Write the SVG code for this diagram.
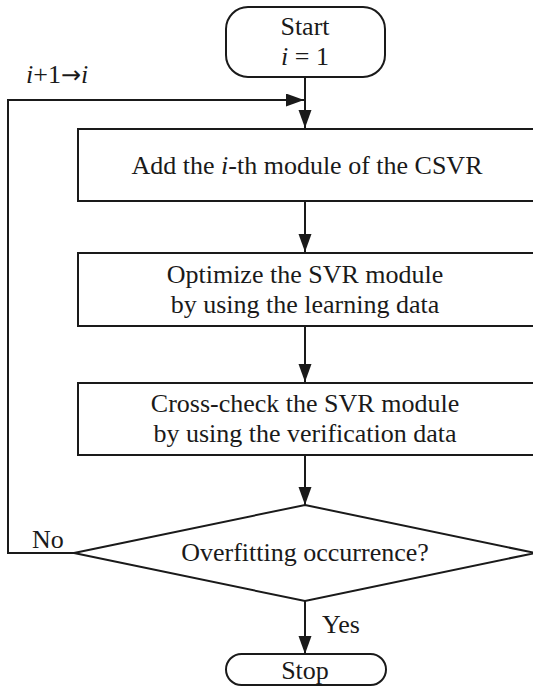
<svg xmlns="http://www.w3.org/2000/svg" width="533" height="688" viewBox="0 0 533 688">
<style>
.s{fill:none;stroke:#1a1a1a;stroke-width:2}
.b{fill:#fff;stroke:#1a1a1a;stroke-width:2}
text{font-family:"Liberation Serif","Times New Roman",serif;font-size:26px;fill:#1a1a1a}
.c{text-anchor:middle}
.ar{font-family:"DejaVu Sans",sans-serif;font-size:24px}
</style>
<defs>
<marker id="ah" markerUnits="userSpaceOnUse" markerWidth="20" markerHeight="14" refX="18" refY="6.5" orient="auto">
<path d="M0,0 L18,6.5 L0,13 Z" fill="#1a1a1a"/>
</marker>
</defs>
<g id="connectors">
<line class="s" x1="305" y1="77" x2="305" y2="128" marker-end="url(#ah)"/>
<polyline class="s" points="74,553 8,553 8,100 304,100" marker-end="url(#ah)"/>
<line class="s" x1="305" y1="201" x2="305" y2="252" marker-end="url(#ah)"/>
<line class="s" x1="305" y1="326" x2="305" y2="382" marker-end="url(#ah)"/>
<line class="s" x1="305" y1="455" x2="305" y2="505" marker-end="url(#ah)"/>
<line class="s" x1="305" y1="601" x2="305" y2="654" marker-end="url(#ah)"/>
<text x="26" y="83"><tspan font-style="italic">i</tspan>+1<tspan class="ar">→</tspan><tspan font-style="italic">i</tspan></text>
<text x="32" y="548">No</text>
<text x="322" y="633">Yes</text>
</g>
<g id="start">
<rect class="b" x="226" y="7" width="159" height="70" rx="22"/>
<text class="c" x="305" y="35">Start</text>
<text class="c" x="305" y="65"><tspan font-style="italic">i</tspan> = 1</text>
</g>
<g id="add">
<rect class="b" x="78" y="129" width="470" height="72"/>
<text class="c" x="307" y="174">Add the <tspan font-style="italic">i</tspan>-th module of the CSVR</text>
</g>
<g id="optimize">
<rect class="b" x="78" y="253" width="470" height="73"/>
<text class="c" x="305" y="283">Optimize the SVR module</text>
<text class="c" x="305" y="313">by using the learning data</text>
</g>
<g id="crosscheck">
<rect class="b" x="78" y="383" width="470" height="72"/>
<text class="c" x="305" y="412">Cross-check the SVR module</text>
<text class="c" x="305" y="442">by using the verification data</text>
</g>
<g id="decision">
<polygon class="b" points="305,505 535,553 305,601 74,553"/>
<text class="c" x="305" y="561">Overfitting occurrence?</text>
</g>
<g id="stop">
<rect class="b" x="226" y="654" width="160" height="31" rx="15.5"/>
<text class="c" x="305" y="679">Stop</text>
</g>
</svg>
